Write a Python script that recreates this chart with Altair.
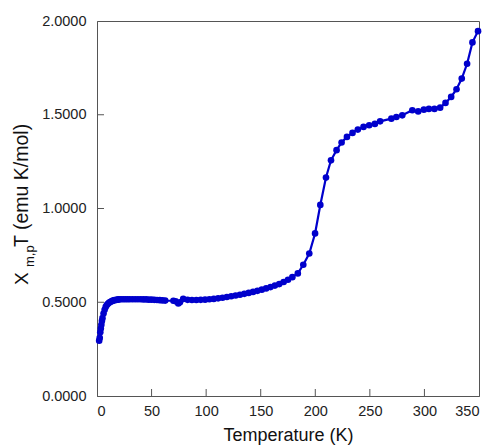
import altair as alt
import pandas as pd

temps = [2, 2.5, 3, 3.5, 4, 4.5, 5, 6, 7, 8, 9, 10, 11, 12, 13, 14, 15, 16, 17, 18, 19, 20,
         22, 24, 26, 28, 30, 32.5, 35, 37.5, 40, 42.5, 45, 47.5, 50, 52.5, 55, 57.5, 60, 62.5,
         70, 72, 74.5, 76, 79, 83, 87, 91, 95, 99, 103, 107, 111, 115, 119, 123, 127, 131,
         135, 139, 143, 147, 151, 155, 159, 163, 167, 171, 175, 179, 184, 189, 194.5, 199.8,
         204.6, 209.8, 214.4, 219.5, 224.1, 229, 234.1, 239, 244.2, 249.4, 254.6, 259.4,
         269.7, 274.3, 279.7, 288.9, 294.3, 299.5, 304.1, 309.2, 314.4, 319.3, 324.5, 329.4,
         334.2, 339.1, 344, 349.1]
chi_t = [0.295, 0.31, 0.34, 0.36, 0.38, 0.40, 0.415, 0.44, 0.46, 0.475, 0.485, 0.492, 0.497,
         0.501, 0.504, 0.507, 0.509, 0.511, 0.512, 0.513, 0.514, 0.515,
         0.516, 0.516, 0.516, 0.516, 0.516, 0.516, 0.516, 0.516, 0.516, 0.515, 0.515, 0.514,
         0.514, 0.513, 0.512, 0.511, 0.510, 0.509,
         0.508, 0.505, 0.494, 0.500, 0.518, 0.513, 0.512, 0.512, 0.513, 0.514, 0.516, 0.518,
         0.521, 0.524, 0.528, 0.532, 0.536, 0.540,
         0.545, 0.550, 0.555, 0.561, 0.567, 0.574, 0.581, 0.589, 0.597, 0.608, 0.620, 0.634,
         0.654, 0.700, 0.760, 0.867,
         1.019, 1.165, 1.257, 1.311, 1.352, 1.382, 1.403, 1.421, 1.435, 1.444, 1.451, 1.465,
         1.479, 1.488, 1.497, 1.524, 1.518, 1.527, 1.531, 1.531, 1.538, 1.563, 1.595, 1.636,
         1.693, 1.772, 1.886, 1.946]

x_ticks = [0, 50, 100, 150, 200, 250, 300, 350]
y_ticks = [0.0, 0.5, 1.0, 1.5, 2.0]
x_inner_ticks = [50, 100, 150, 200, 250, 300]
y_inner_ticks = [0.5, 1.0, 1.5]

W, H = 382, 375
BLUE = "#0000cc"
FONT = "Liberation Sans"

df = pd.DataFrame({"T": temps, "chi": chi_t})

xs = alt.Scale(domain=[0, 350], nice=False)
ys = alt.Scale(domain=[0, 2], nice=False)

base = alt.Chart(df)
xenc = alt.X("T:Q", scale=xs,
             axis=alt.Axis(values=x_ticks, ticks=False, grid=False, labelPadding=8,
                           title="Temperature (K)", titleFontSize=18, titleFontWeight="normal",
                           titlePadding=9, labelFontSize=14.5, labelFont=FONT, titleFont=FONT,
                           labelColor="#222", titleColor="#111", domainColor="#555"))
yenc = alt.Y("chi:Q", scale=ys,
             axis=alt.Axis(values=y_ticks, format=".4f", ticks=False, grid=False,
                           labelPadding=11, title=None, labelFontSize=14.5, labelFont=FONT,
                           labelColor="#222", domainColor="#555"))

line = base.mark_line(color=BLUE, strokeWidth=2.2).encode(x=xenc, y=yenc)
pts = base.mark_circle(color=BLUE, size=44, opacity=1).encode(x="T:Q", y="chi:Q")

xt = alt.Chart(pd.DataFrame({"v": x_inner_ticks})).mark_rule(color="#555").encode(
    x="v:Q", y=alt.value(H), y2=alt.value(H - 7))
yt = alt.Chart(pd.DataFrame({"v": y_inner_ticks})).mark_rule(color="#555").encode(
    y="v:Q", x=alt.value(0), x2=alt.value(7))

tX = alt.Chart(pd.DataFrame({"t": ["X"]})).mark_text(
    angle=270, align="left", baseline="alphabetic", fontSize=19, font=FONT, color="#111"
).encode(text="t:N", x=alt.value(-69.5), y=alt.value(264))
tSub = alt.Chart(pd.DataFrame({"t": ["m,p"]})).mark_text(
    angle=270, align="left", baseline="alphabetic", fontSize=13, font=FONT, color="#111"
).encode(text="t:N", x=alt.value(-63.5), y=alt.value(246))
tRest = alt.Chart(pd.DataFrame({"t": ["T (emu K/mol)"]})).mark_text(
    angle=270, align="left", baseline="alphabetic", fontSize=19.5, font=FONT, color="#111"
).encode(text="t:N", x=alt.value(-69.5), y=alt.value(226))

chart = alt.layer(line, pts, xt, yt, tX, tSub, tRest).properties(
    width=W, height=H,
    autosize=alt.AutoSizeParams(type="none"),
    padding={"left": 97, "top": 21, "right": 13, "bottom": 50},
    background="white",
).configure_view(stroke="#555", strokeWidth=1)

chart.save("out.html", embed_options={"renderer": "svg", "actions": False})
